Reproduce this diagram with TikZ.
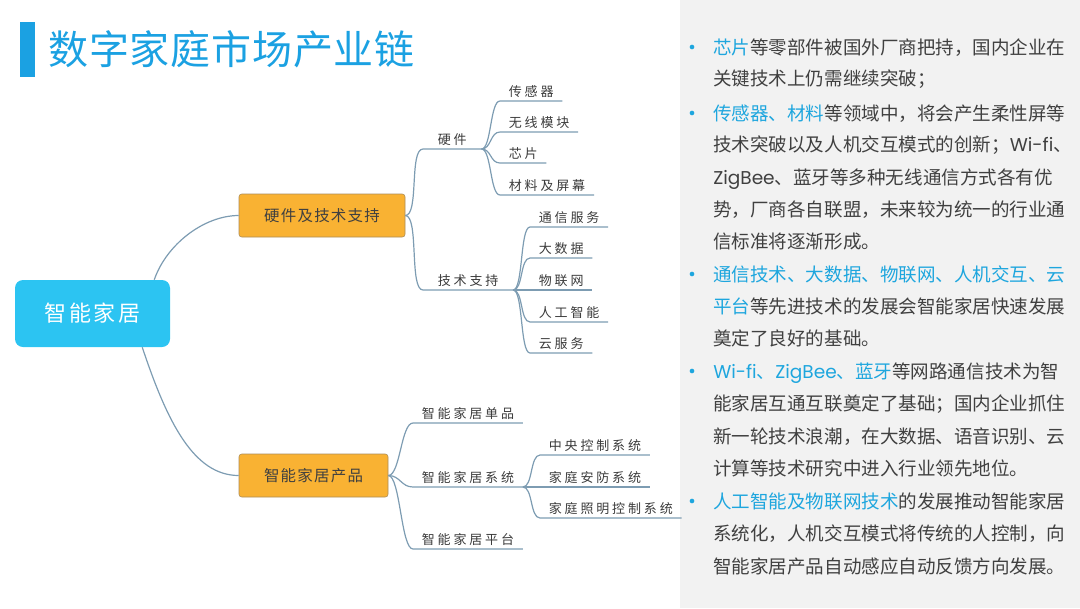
\documentclass[tikz,border=0pt]{standalone}
\usepackage{fontspec}
\setmainfont{Noto Sans CJK SC}
\newfontfamily\leaffont[LetterSpace=22]{Noto Sans CJK SC}
\newfontfamily\boxfont[LetterSpace=8]{Noto Sans CJK SC}
\newfontfamily\hubfont[LetterSpace=12]{Noto Sans CJK SC}
\newfontfamily\titlefont[LetterSpace=2]{Noto Sans CJK SC}
\newfontfamily\latinfont{Poppins}
\usetikzlibrary{positioning}
\definecolor{sky}{RGB}{27,161,226}
\definecolor{hubblue}{RGB}{44,196,242}
\definecolor{amber}{RGB}{249,178,51}
\definecolor{amberline}{RGB}{170,140,90}
\definecolor{wire}{RGB}{125,156,178}
\definecolor{ink}{RGB}{64,64,64}
\definecolor{panel}{RGB}{242,242,242}
\definecolor{kwblue}{RGB}{30,166,222}
\newcommand\kw[1]{{\color{kwblue}#1}}
\newcommand\latn[1]{{\latinfont #1}}
\tikzset{
  hub/.style={fill=hubblue,text=white,rounded corners=6pt,minimum width=116.25pt,
    minimum height=50.25pt,font=\hubfont\fontsize{16.5}{20}\selectfont},
  branch/.style={draw=amberline,fill=amber,rounded corners=2pt,minimum height=32.25pt,
    font=\boxfont\fontsize{11.6}{14}\selectfont,text=ink},
  tag/.style={anchor=south west,inner xsep=6.4pt,inner ysep=3.5pt,text depth=0pt,
    font=\leaffont\fontsize{9.75}{12}\selectfont,text=ink!90!black},
  link/.style={draw=wire,line width=0.9pt},
  para/.style={anchor=base west,inner sep=0pt,font=\fontsize{13.9}{17}\selectfont,text=ink},
  dot/.style={circle,fill=kwblue,inner sep=0pt,minimum size=3.5pt},
}
\begin{document}
\begin{tikzpicture}[x=0.75pt,y=-0.75pt]
  \useasboundingbox (0,0) rectangle (1080,608);
  \fill[panel] (680,0) rectangle (1080,608);
  % title
  \fill[sky] (20,22) rectangle (35,77);
  \node[anchor=west,inner sep=0pt,text=sky,font=\titlefont\fontsize{30}{36}\selectfont] (title) at (48,49) {数字家庭市场产业链};

  % mind map
  \node[hub] (hub) at (92.5,313.5) {智能家居};
  \node[branch,minimum width=124.5pt] (hw) at (322,215.5) {硬件及技术支持};
  \node[branch,minimum width=111.75pt] (pd) at (313.5,475.5) {智能家居产品};
  \draw[link] ([xshift=-12pt]hub.north east) .. controls +(12,-35) and +(-35,0) .. (hw.west);
  \draw[link] ([xshift=-21pt]hub.south east) .. controls +(25,75) and +(-45,0) .. (pd.west);

  \node[tag,inner xsep=10.9pt] (hwa) at (423,149) {硬件};
  \node[tag,inner xsep=10.9pt] (hwb) at (423,290) {技术支持};
  \foreach \n in {hwa,hwb}
    \draw[link] (hw.east) .. controls +(14,0) and +(-14,0) .. (\n.south west) -- (\n.south east);
  \foreach \i/\y/\t in {1/101/传感器,2/132/无线模块,3/163/芯片,4/195/材料及屏幕}{
    \node[tag] (h\i) at (500,\y) {\t};
    \draw[link] (hwa.south east) .. controls +(10,0) and +(-10,0) .. (h\i.south west) -- (h\i.south east);
  }
  \foreach \i/\y/\t in {1/227/通信服务,2/258/大数据,3/290/物联网,4/322/人工智能,5/353/云服务}{
    \node[tag] (t\i) at (530,\y) {\t};
    \draw[link] (hwb.south east) .. controls +(10,0) and +(-10,0) .. (t\i.south west) -- (t\i.south east);
  }
  \foreach \i/\y/\t in {1/423/智能家居单品,2/487/智能家居系统,3/549/智能家居平台}{
    \node[tag] (p\i) at (413,\y) {\t};
    \draw[link] (pd.east) .. controls +(12,0) and +(-12,0) .. (p\i.south west) -- (p\i.south east);
  }
  \foreach \i/\y/\t in {1/455/中央控制系统,2/487/家庭安防系统,3/518/家庭照明控制系统}{
    \node[tag] (q\i) at (540,\y) {\t};
    \draw[link] (p2.south east) .. controls +(10,0) and +(-10,0) .. (q\i.south west) -- (q\i.south east);
  }

  % notes
  \foreach \y in {47,113,274,371,501}
    \node[dot] (b\y) at (692,\y) {};
  \foreach \y/\t in {
    47/{\kw{芯片}等零部件被国外厂商把持，国内企业在},
    78/{关键技术上仍需继续突破；},
    113/{\kw{传感器、材料}等领域中，将会产生柔性屏等},
    144/{技术突破以及人机交互模式的创新；\latn{Wi-fi}、},
    177/{\latn{ZigBee}、蓝牙等多种无线通信方式各有优},
    209/{势，厂商各自联盟，未来较为统一的行业通},
    241/{信标准将逐渐形成。},
    274/{\kw{通信技术、大数据、物联网、人机交互、云}},
    306/{\kw{平台}等先进技术的发展会智能家居快速发展},
    338/{奠定了良好的基础。},
    371/{\kw{\latn{Wi-fi}、\latn{ZigBee}、蓝牙}等网路通信技术为智},
    403/{能家居互通互联奠定了基础；国内企业抓住},
    436/{新一轮技术浪潮，在大数据、语音识别、云},
    468/{计算等技术研究中进入行业领先地位。},
    501/{\kw{人工智能及物联网技术}的发展推动智能家居},
    533/{系统化，人机交互模式将传统的人控制，向},
    566/{智能家居产品自动感应自动反馈方向发展。}}
    \node[para] (l\y) at (713,\y+7) {\t};
\end{tikzpicture}
\end{document}
